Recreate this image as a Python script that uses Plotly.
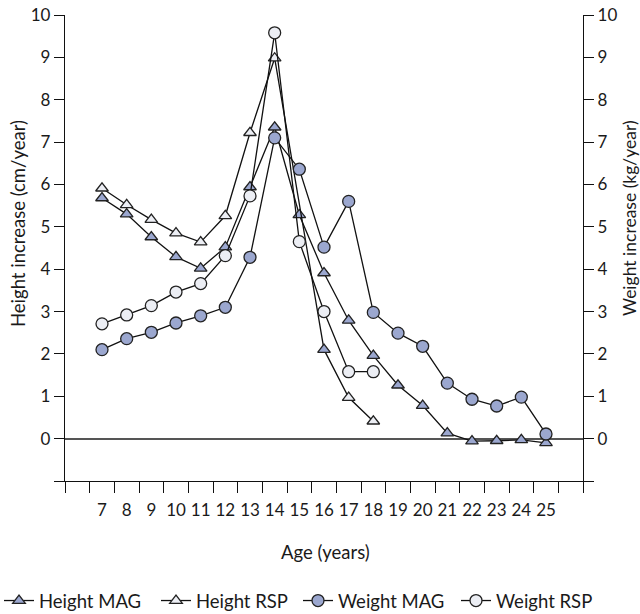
import plotly.graph_objects as go

# ---- data ----
height_mag_ages = [7, 8, 9, 10, 11, 12, 13, 14, 15, 16, 17, 18, 19, 20, 21, 22, 23, 24, 25]
height_mag = [5.68, 5.3, 4.76, 4.29, 4.02, 4.52, 5.94, 7.35, 5.28, 3.91, 2.79, 1.96, 1.26, 0.78, 0.13, -0.06, -0.05, -0.03, -0.1]

height_rsp_ages = [7, 8, 9, 10, 11, 12, 13, 14, 16, 17, 18]
height_rsp = [5.91, 5.52, 5.17, 4.85, 4.64, 5.26, 7.22, 8.98, 2.1, 0.97, 0.41]

weight_mag_ages = [7, 8, 9, 10, 11, 12, 13, 14, 15, 16, 17, 18, 19, 20, 21, 22, 23, 24, 25]
weight_mag = [2.1, 2.36, 2.51, 2.73, 2.9, 3.1, 4.28, 7.1, 6.36, 4.52, 5.6, 2.98, 2.49, 2.18, 1.31, 0.93, 0.77, 0.98, 0.11]

weight_rsp_ages = [7, 8, 9, 10, 11, 12, 13, 14, 15, 16, 17, 18]
weight_rsp = [2.71, 2.92, 3.14, 3.46, 3.66, 4.32, 5.73, 9.58, 4.65, 3.0, 1.58, 1.58]

age_labels = list(range(7, 26))
y_ticks = list(range(-1, 11))
y_ticktext = [""] + [str(v) for v in range(0, 11)]

# ---- styles ----
FILL = "#9ba7cf"
WHITE = "#eceef4"
EDGE = "#222222"
FONT = "Lato"
TXT = "#1a1a1a"

# marker fill for Height RSP (point at 16 appears filled in reference)
height_rsp_fill = [FILL if a == 16 else WHITE for a in height_rsp_ages]

L, R, T, B = 65, 57, 15, 133
PW, PH = 640 - L - R, 614 - T - B

def px_x(px):
    return (px - L) / PW

def px_y(py):
    return (614 - B - py) / PH

fig = go.Figure()

def add(name, x, y, symbol, fill, size, legend, yaxis="y"):
    fig.add_trace(go.Scatter(
        x=x, y=y, name=name, mode="lines+markers", yaxis=yaxis, legend=legend,
        line=dict(color="#111111", width=1.3),
        marker=dict(symbol=symbol, size=size, color=fill,
                    line=dict(color=EDGE, width=1.3)),
    ))

add("Height MAG", height_mag_ages, height_mag, "triangle-up", FILL, 11, "legend")
add("Height RSP", height_rsp_ages, height_rsp, "triangle-up", height_rsp_fill, 11, "legend2")
add("Weight MAG", weight_mag_ages, weight_mag, "circle", FILL, 12, "legend3", "y2")
add("Weight RSP", weight_rsp_ages, weight_rsp, "circle", WHITE, 12, "legend4", "y2")

tick_font = dict(family=FONT, size=17, color=TXT)
title_font = dict(family=FONT, size=18.5, color=TXT)
rtitle_font = dict(family=FONT, size=17.5, color=TXT)

def legend_at(px):
    return dict(orientation="h", x=px_x(px), xanchor="left", y=px_y(601), yanchor="middle",
                font=dict(family=FONT, size=18.5, color=TXT),
                itemwidth=30, tracegroupgap=0, bgcolor="rgba(0,0,0,0)")

fig.update_layout(
    width=640, height=614,
    margin=dict(l=L, r=R, t=T, b=B, autoexpand=False),
    paper_bgcolor="white", plot_bgcolor="white",
    font=dict(family=FONT, size=17, color=TXT),
    showlegend=True,
    legend=legend_at(-1),
    legend2=legend_at(156),
    legend3=legend_at(298),
    legend4=legend_at(456),
    xaxis=dict(
        range=[5.5, 26.5], showgrid=False, zeroline=False,
        showline=True, linecolor="#111111", linewidth=1.3,
        tickmode="array", tickvals=age_labels, ticktext=[str(a) for a in age_labels],
        ticks="", tickfont=tick_font, ticklabelstandoff=13,
        minor=dict(ticks="outside", tick0=5.5, dtick=1, ticklen=11,
                   tickcolor="#111111", tickwidth=1.3, showgrid=False),
    ),
    yaxis=dict(
        range=[-1, 10], showgrid=False,
        zeroline=True, zerolinecolor="#555555", zerolinewidth=1.5,
        showline=True, linecolor="#111111", linewidth=1.3,
        tickmode="array", tickvals=y_ticks, ticktext=y_ticktext,
        ticks="outside", ticklen=10, tickcolor="#111111", tickwidth=1.3,
        tickfont=tick_font,
    ),
    yaxis2=dict(
        range=[-1, 10], overlaying="y", side="right", showgrid=False,
        zeroline=False,
        showline=True, linecolor="#111111", linewidth=1.3,
        tickmode="array", tickvals=y_ticks, ticktext=y_ticktext,
        ticks="outside", ticklen=10, tickcolor="#111111", tickwidth=1.3,
        tickfont=tick_font,
    ),
    annotations=[
        dict(text="Age (years)", xref="paper", yref="paper", x=px_x(325), y=px_y(552),
             xanchor="center", yanchor="middle", showarrow=False, font=title_font),
        dict(text="Height increase (cm/year)", xref="paper", yref="paper", x=px_x(18), y=px_y(224),
             xanchor="center", yanchor="middle", textangle=-90, showarrow=False, font=title_font),
        dict(text="Weight increase (kg/year)", xref="paper", yref="paper", x=px_x(629), y=px_y(218),
             xanchor="center", yanchor="middle", textangle=-90, showarrow=False, font=rtitle_font),
    ],
)

fig.write_html("out.html", config={"displayModeBar": False},
               post_script="document.body.style.margin='0';")
